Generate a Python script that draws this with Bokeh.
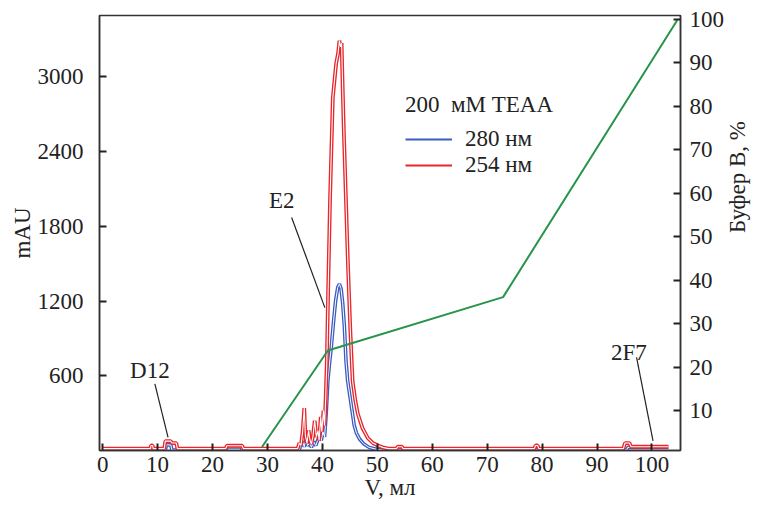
import math
from bokeh.plotting import figure
from bokeh.models import Range1d, LinearAxis, Legend, LegendItem, Label, FixedTicker
from bokeh.embed import file_html
from bokeh.resources import INLINE

FONT = "Liberation Serif"
FS = "23px"
RED = "#e8262b"
BLUE = "#3a5bc2"
GREEN = "#26944a"
INK = "#222222"

# 254 nm trace (mAU vs V, ml)
vol_254 = [0.0, 8.7, 8.8, 9.1, 9.2, 11.2, 11.4, 12.4, 12.6, 13.4, 13.6, 22.4, 22.6, 25.4, 25.6,
           35.5, 35.8, 36.1, 36.4, 36.7, 36.9, 37.2, 37.5, 37.7, 38.0, 38.3, 38.6, 38.9, 39.2,
           39.4, 39.7, 39.9, 40.2, 40.4, 40.6, 40.8, 41.05, 41.4, 41.9, 42.5, 42.85, 43.1, 43.3,
           43.5, 43.7, 43.9, 44.3, 44.65, 45.1, 45.5, 46.0, 46.45, 47.3, 48.25, 49.2, 50.1, 51.0,
           52.0, 53.5, 53.7, 54.5, 54.7, 78.6, 78.8, 79.2, 79.4, 94.8, 95.1, 95.9, 96.2, 103.0]
mau_254 = [15, 15, 40, 40, 15, 15, 75, 75, 60, 60, 15, 15, 38, 38, 15,
           15, 60, 40, 150, 340, 120, 60, 160, 90, 50, 120, 240, 110, 160,
           80, 270, 150, 320, 200, 420, 700, 1283, 2030, 2833, 3105, 3186, 3290, 3240,
           3270, 2900, 2568, 2000, 1500, 950, 558, 400, 295, 180, 102, 60, 40, 25,
           15, 15, 30, 30, 15, 15, 40, 40, 15, 15, 60, 60, 30, 30]

# 280 nm trace
vol_280 = [0.0, 11.4, 11.6, 12.4, 12.6, 22.4, 22.6, 25.2, 25.4, 35.8, 36.0, 36.4, 36.7, 37.0,
           37.3, 37.7, 38.0, 38.4, 38.8, 39.2, 39.5, 39.8, 40.1, 40.4, 40.7, 41.0, 41.3, 41.6,
           42.0, 42.4, 42.8, 43.1, 43.4, 43.7, 44.0, 44.3, 44.6, 45.0, 45.4, 45.8, 46.2, 46.8,
           47.5, 48.5, 50.0, 51.0, 95.4, 95.6, 103.0]
mau_280 = [3, 3, 45, 45, 3, 3, 28, 28, 3, 3, 40, 70, 30, 90,
           40, 60, 25, 70, 40, 90, 130, 80, 150, 110, 300, 560, 700, 820,
           1020, 1200, 1310, 1336, 1300, 1180, 1000, 720, 560, 440, 320, 200, 140, 90,
           55, 25, 8, 3, 3, 25, 25]

# gradient, buffer B %
grad_vol = [29.0, 41.0, 72.9, 104.6]
grad_b = [1.6, 23.8, 36.1, 99.8]

x_ticks = [0, 10, 20, 30, 40, 50, 60, 70, 80, 90, 100]
mau_ticks = [600, 1200, 1800, 2400, 3000]
b_ticks = [10, 20, 30, 40, 50, 60, 70, 80, 90, 100]

# peak annotations: label, label position, leader line start/end
ann_text = ["E2", "D12", "2F7"]
ann_x = [32.6, 8.6, 95.8]
ann_y = [2004, 640, 785]
lead_x0 = [34.4, 9.5, 97.2]
lead_y0 = [1871, 534, 747]
lead_x1 = [40.45, 11.9, 100.2]
lead_y1 = [1147, 105, 78]

p = figure(width=765, height=509, output_backend="svg", toolbar_location=None,
           x_range=Range1d(-0.58, 105.2), y_range=Range1d(0, 3492),
           min_border_left=99, min_border_right=79, min_border_top=15, min_border_bottom=59)
p.extra_y_ranges = {"b": Range1d(0.8, 100.9)}
p.xgrid.visible = False
p.ygrid.visible = False
p.outline_line_color = "#333333"
p.outline_line_width = 1.5
p.background_fill_color = "white"
p.border_fill_color = "white"


def style(ax, standoff, title, title_standoff):
    ax.axis_line_color = "#333333"
    ax.axis_line_width = 1.5
    ax.major_tick_in = 7
    ax.major_tick_out = 0
    ax.major_tick_line_width = 2
    ax.major_tick_line_color = INK
    ax.minor_tick_line_color = None
    ax.major_label_text_font = FONT
    ax.major_label_text_font_size = FS
    ax.major_label_text_color = INK
    ax.major_label_standoff = standoff
    ax.axis_label = title
    ax.axis_label_text_font = FONT
    ax.axis_label_text_font_size = FS
    ax.axis_label_text_font_style = "normal"
    ax.axis_label_text_color = INK
    ax.axis_label_standoff = title_standoff


style(p.xaxis[0], 6, "V, мл", 0)
p.xaxis[0].ticker = FixedTicker(ticks=x_ticks)
style(p.yaxis[0], 16, "mAU", 0)
p.yaxis[0].ticker = FixedTicker(ticks=mau_ticks)

rax = LinearAxis(y_range_name="b", ticker=FixedTicker(ticks=b_ticks))
style(rax, 9, "Буфер B, %", 10)
try:
    rax.axis_label_orientation = math.pi / 2
except Exception:
    pass
p.add_layout(rax, "right")

# traces
p.line(vol_280, mau_280, color=BLUE, line_width=3.6)
p.line(vol_280, mau_280, color="white", line_width=1.0)
p.line(vol_254, mau_254, color=RED, line_width=3.8)
p.line(vol_254, mau_254, color="white", line_width=1.1)
p.line(grad_vol, grad_b, color=GREEN, line_width=2.0, y_range_name="b")

# annotations
p.segment(x0=lead_x0, y0=lead_y0, x1=lead_x1, y1=lead_y1, color=INK, line_width=1.2)
for t, x, y in zip(ann_text, ann_x, ann_y):
    p.add_layout(Label(x=x, y=y, text=t, text_align="center", text_baseline="middle",
                       text_font=FONT, text_font_size=FS, text_color=INK))

# legend (hidden renderers only supply the legend swatches)
lb = p.line(vol_280, mau_280, color=BLUE, line_width=2, visible=False)
lr = p.line(vol_254, mau_254, color=RED, line_width=2, visible=False)
legend = Legend(items=[LegendItem(label="280 нм", renderers=[lb]),
                       LegendItem(label="254 нм", renderers=[lr])],
                title="200  мМ TEAA", location=(306, 272))
legend.title_text_font = FONT
legend.title_text_font_size = FS
legend.title_text_font_style = "normal"
legend.title_text_color = INK
legend.title_standoff = 8
legend.label_text_font = FONT
legend.label_text_font_size = FS
legend.label_text_color = INK
legend.glyph_width = 47
legend.glyph_height = 20
legend.label_height = 20
legend.label_standoff = 13
legend.spacing = 0
legend.padding = 0
legend.margin = 0
legend.border_line_color = None
legend.background_fill_alpha = 0
legend.inactive_fill_alpha = 0
legend.click_policy = "none"
p.add_layout(legend)

open("out.html", "w").write(file_html(p, INLINE))
